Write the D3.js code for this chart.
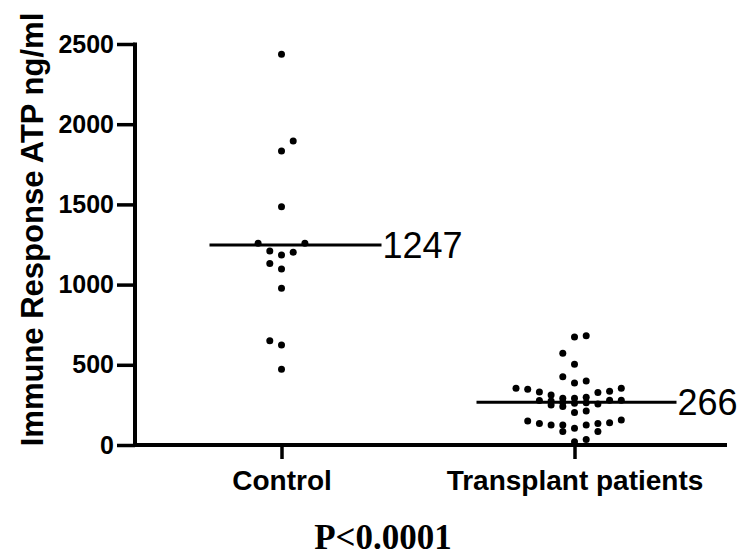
<!DOCTYPE html>
<html>
<head>
<meta charset="utf-8">
<script src="https://cdn.jsdelivr.net/npm/d3@7"></script>
<style>
  html, body { margin: 0; padding: 0; background: #fff; }
  svg { display: block; }
</style>
</head>
<body>
<svg id="chart" width="743" height="557"></svg>
<script>
// ---------------- data ----------------
const categories = ["Control", "Transplant patients"];
const yTicks = [0, 500, 1000, 1500, 2000, 2500];
const yLabel = "Immune Response ATP ng/ml";
const pLabel = "P<0.0001";
const means = [1247, 266];

// Control group: values and scatter column slot
const controlValues = [2436, 1895, 1833, 1485, 1258, 1258, 1210, 1185, 1202, 1132, 1097, 977, 650, 623, 472];
const controlSlots  = [0, 1, 0, 0, -2, 2, -1, 0, 1, -1, 0, 0, -1, 0, 0];

// Transplant group: values and scatter column slot
const transplantValues = [
  674, 681, 572, 503, 426, 387, 399,
  354, 347, 330, 311, 291, 291, 297, 328, 335, 354,
  278, 275, 249, 266, 240, 260, 263, 255, 279, 279,
  203, 212,
  150, 134, 125, 125, 84, 104, 125, 134, 84, 138, 156,
  21, 35
];
const transplantSlots = [
  0, 1, -1, 0, -1, 0, 1,
  -5, -4, -3, -2, -1, 0, 1, 2, 3, 4,
  -3, -2, -2, -1, -1, 0, 1, 2, 3, 4,
  0, 1,
  -4, -3, -2, -1, -1, 0, 1, 2, 2, 3, 4,
  0, 1
];

// ---------------- drawing ----------------
const svg = d3.select("#chart");

const y = d3.scaleLinear().domain([0, 2500]).range([445, 44]);
const x = d3.scalePoint().domain(categories).range([135, 721]).padding(0.5);
const slot = d3.scaleLinear().domain([0, 1]).range([0, 11.7]);

// Y axis
const yAxis = d3.axisLeft(y).tickValues(yTicks).tickSize(18).tickPadding(3).tickFormat(d3.format("d"));
const gy = svg.append("g").attr("transform", "translate(135,0)").call(yAxis);
gy.select(".domain").remove();
gy.selectAll(".tick line").attr("stroke", "#000").attr("stroke-width", 3.5);
gy.selectAll(".tick text")
  .attr("fill", "#000")
  .style("font-family", "'Liberation Sans', Arial, sans-serif")
  .style("font-weight", "bold")
  .style("font-size", "25px");
svg.append("line")
  .attr("x1", 135).attr("x2", 135)
  .attr("y1", y(2500) - 1.5).attr("y2", y(0) + 2)
  .attr("stroke", "#000").attr("stroke-width", 4);

// X axis
const xAxis = d3.axisBottom(x).tickSize(14).tickPadding(11);
const gx = svg.append("g").attr("transform", `translate(0,${y(0)})`).call(xAxis);
gx.select(".domain").remove();
gx.selectAll(".tick line").attr("stroke", "#000").attr("stroke-width", 3.5);
gx.selectAll(".tick text")
  .attr("fill", "#000")
  .style("font-family", "'Liberation Sans', Arial, sans-serif")
  .style("font-weight", "bold")
  .style("font-size", "28px");
svg.append("line")
  .attr("x1", 133).attr("x2", 727)
  .attr("y1", y(0)).attr("y2", y(0))
  .attr("stroke", "#000").attr("stroke-width", 4);

// Y label
svg.append("text")
  .attr("transform", `translate(43,${(y(0) + y(2500)) / 2 - 15}) rotate(-90)`)
  .attr("text-anchor", "middle")
  .style("font-family", "'Liberation Sans', Arial, sans-serif")
  .style("font-weight", "bold")
  .style("font-size", "31px")
  .text(yLabel);

// Dots
const groups = [
  { cat: categories[0], values: controlValues, slots: controlSlots },
  { cat: categories[1], values: transplantValues, slots: transplantSlots }
];
groups.forEach(g => {
  svg.append("g").selectAll("circle")
    .data(g.values.map((v, i) => ({ v, s: g.slots[i] })))
    .join("circle")
    .attr("cx", d => x(g.cat) + slot(d.s))
    .attr("cy", d => y(d.v))
    .attr("r", 3.5)
    .attr("fill", "#000");
});

// Mean lines and labels
const meanExtents = [[-72, 100], [-98, 102]];
means.forEach((m, i) => {
  const cx = x(categories[i]);
  svg.append("line")
    .attr("x1", cx + meanExtents[i][0]).attr("x2", cx + meanExtents[i][1])
    .attr("y1", y(m)).attr("y2", y(m))
    .attr("stroke", "#000").attr("stroke-width", 3);
  svg.append("text")
    .attr("x", cx + meanExtents[i][1] + 1)
    .attr("y", y(m) + 13)
    .style("font-family", "'Liberation Sans', Arial, sans-serif")
    .style("font-size", "36px")
    .text(m);
});

// P value
svg.append("text")
  .attr("x", 383).attr("y", 549)
  .attr("text-anchor", "middle")
  .style("font-family", "'Liberation Serif', 'Times New Roman', serif")
  .style("font-weight", "bold")
  .style("font-size", "35px")
  .text(pLabel);
</script>
</body>
</html>
